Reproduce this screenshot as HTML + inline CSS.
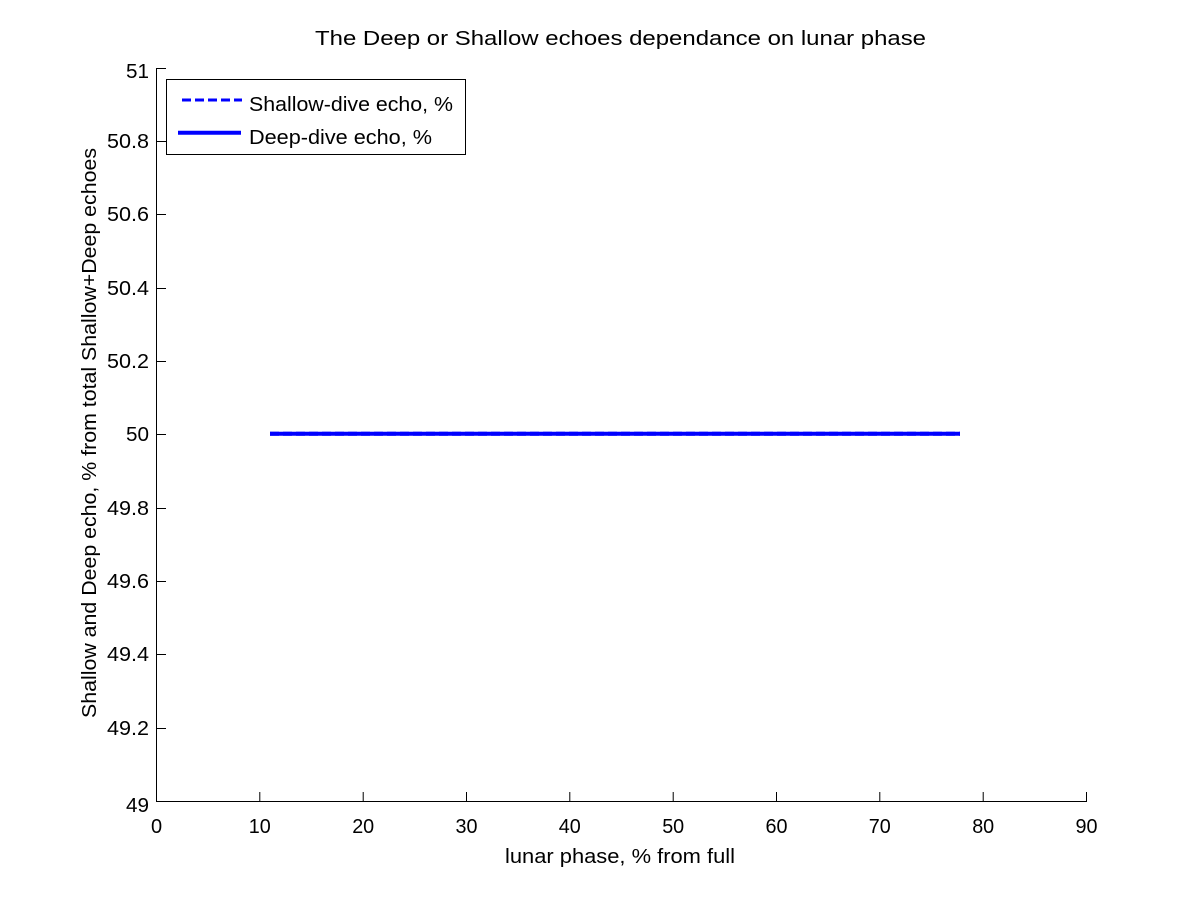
<!DOCTYPE html>
<html>
<head>
<meta charset="utf-8">
<style>
  html, body { margin: 0; padding: 0; background: #ffffff; }
  svg { display: block; }
  text { font-family: "Liberation Sans", Arial, sans-serif; fill: #000; }
</style>
</head>
<body>
<svg width="1200" height="900" viewBox="0 0 1200 900" xmlns="http://www.w3.org/2000/svg">
  <rect x="0" y="0" width="1200" height="900" fill="#ffffff"/>

  <!-- Title -->
  <text x="315" y="45" font-size="20.5" textLength="611" lengthAdjust="spacingAndGlyphs">The Deep or Shallow echoes dependance on lunar phase</text>

  <!-- Axes lines -->
  <line x1="156.5" y1="68" x2="156.5" y2="802" stroke="#000" stroke-width="1"/>
  <line x1="156" y1="801.5" x2="1087" y2="801.5" stroke="#000" stroke-width="1"/>

  <!-- X ticks -->
  <g stroke="#000" stroke-width="1">
    <line x1="259.8" y1="801.5" x2="259.8" y2="792"/>
    <line x1="363.2" y1="801.5" x2="363.2" y2="792"/>
    <line x1="466.5" y1="801.5" x2="466.5" y2="792"/>
    <line x1="569.8" y1="801.5" x2="569.8" y2="792"/>
    <line x1="673.2" y1="801.5" x2="673.2" y2="792"/>
    <line x1="776.5" y1="801.5" x2="776.5" y2="792"/>
    <line x1="879.8" y1="801.5" x2="879.8" y2="792"/>
    <line x1="983.2" y1="801.5" x2="983.2" y2="792"/>
    <line x1="1086.5" y1="801.5" x2="1086.5" y2="792"/>
  </g>
  <g font-size="20" text-anchor="middle">
    <text x="156.5" y="833">0</text>
    <text x="259.8" y="833" textLength="22" lengthAdjust="spacingAndGlyphs">10</text>
    <text x="363.2" y="833" textLength="22" lengthAdjust="spacingAndGlyphs">20</text>
    <text x="466.5" y="833" textLength="22" lengthAdjust="spacingAndGlyphs">30</text>
    <text x="569.8" y="833" textLength="22" lengthAdjust="spacingAndGlyphs">40</text>
    <text x="673.2" y="833" textLength="22" lengthAdjust="spacingAndGlyphs">50</text>
    <text x="776.5" y="833" textLength="22" lengthAdjust="spacingAndGlyphs">60</text>
    <text x="879.8" y="833" textLength="22" lengthAdjust="spacingAndGlyphs">70</text>
    <text x="983.2" y="833" textLength="22" lengthAdjust="spacingAndGlyphs">80</text>
    <text x="1086.5" y="833" textLength="22" lengthAdjust="spacingAndGlyphs">90</text>
  </g>

  <!-- Y ticks -->
  <g stroke="#000" stroke-width="1">
    <line x1="156.5" y1="68.5" x2="166" y2="68.5"/>
    <line x1="156.5" y1="141.5" x2="166" y2="141.5"/>
    <line x1="156.5" y1="214.5" x2="166" y2="214.5"/>
    <line x1="156.5" y1="288.5" x2="166" y2="288.5"/>
    <line x1="156.5" y1="361.5" x2="166" y2="361.5"/>
    <line x1="156.5" y1="434.5" x2="166" y2="434.5"/>
    <line x1="156.5" y1="508.5" x2="166" y2="508.5"/>
    <line x1="156.5" y1="581.5" x2="166" y2="581.5"/>
    <line x1="156.5" y1="654.5" x2="166" y2="654.5"/>
    <line x1="156.5" y1="728.5" x2="166" y2="728.5"/>
  </g>
  <g font-size="20">
    <text x="126" y="78" textLength="23" lengthAdjust="spacingAndGlyphs">51</text>
    <text x="107" y="148" textLength="42" lengthAdjust="spacingAndGlyphs">50.8</text>
    <text x="107" y="221" textLength="42" lengthAdjust="spacingAndGlyphs">50.6</text>
    <text x="107" y="295" textLength="42" lengthAdjust="spacingAndGlyphs">50.4</text>
    <text x="107" y="368" textLength="42" lengthAdjust="spacingAndGlyphs">50.2</text>
    <text x="126" y="441" textLength="23" lengthAdjust="spacingAndGlyphs">50</text>
    <text x="107" y="515" textLength="42" lengthAdjust="spacingAndGlyphs">49.8</text>
    <text x="107" y="588" textLength="42" lengthAdjust="spacingAndGlyphs">49.6</text>
    <text x="107" y="661" textLength="42" lengthAdjust="spacingAndGlyphs">49.4</text>
    <text x="107" y="735" textLength="42" lengthAdjust="spacingAndGlyphs">49.2</text>
    <text x="126" y="812" textLength="23" lengthAdjust="spacingAndGlyphs">49</text>
  </g>

  <!-- Axis labels -->
  <text x="505" y="863" font-size="20" textLength="230" lengthAdjust="spacingAndGlyphs">lunar phase, % from full</text>
  <text transform="translate(96,718) rotate(-90)" x="0" y="0" font-size="20" textLength="570" lengthAdjust="spacingAndGlyphs">Shallow and Deep echo, % from total Shallow+Deep echoes</text>

  <!-- Data lines -->
  <line x1="270" y1="433.7" x2="960" y2="433.7" stroke="#0000ff" stroke-width="4" stroke-dasharray="9,4"/>
  <line x1="270" y1="433.7" x2="960" y2="433.7" stroke="#0000ff" stroke-width="4"/>

  <!-- Legend -->
  <rect x="166.5" y="79.5" width="299" height="75" fill="#ffffff" stroke="#000" stroke-width="1"/>
  <line x1="182" y1="100" x2="242" y2="100" stroke="#0000ff" stroke-width="3" stroke-dasharray="9,4"/>
  <line x1="178" y1="132.7" x2="241" y2="132.7" stroke="#0000ff" stroke-width="4"/>
  <text x="249" y="111" font-size="20" textLength="204" lengthAdjust="spacingAndGlyphs">Shallow-dive echo, %</text>
  <text x="249" y="144" font-size="20" textLength="183" lengthAdjust="spacingAndGlyphs">Deep-dive echo, %</text>
</svg>
</body>
</html>
